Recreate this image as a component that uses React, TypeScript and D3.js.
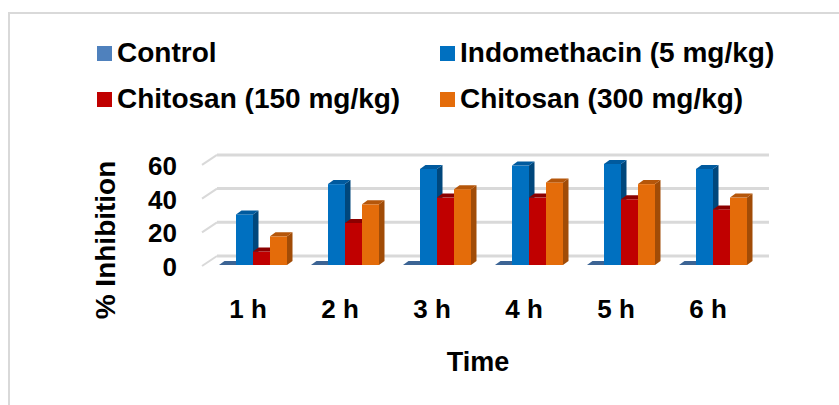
import React from 'react';
import * as d3 from 'd3';

const categories = ['1 h', '2 h', '3 h', '4 h', '5 h', '6 h'];
const seriesNames = ['Control', 'Indomethacin (5 mg/kg)', 'Chitosan (150 mg/kg)', 'Chitosan (300 mg/kg)'];
const control = [0, 0, 0, 0, 0, 0];
const indomethacin = [30, 48, 57, 59, 60, 57];
const chitosan150 = [8, 25, 40, 40, 39, 33];
const chitosan300 = [17, 36, 45, 49, 48, 40];
const yTicks = [0, 20, 40, 60];

// front / top / side shades for each series
const colors = [
  { front: '#4f81bd', top: '#3c6494', side: '#2f5078' },
  { front: '#0070c0', top: '#005a9e', side: '#00477c' },
  { front: '#c00000', top: '#8b0000', side: '#900000' },
  { front: '#e46c0a', top: '#b5560a', side: '#a14c07' },
];

const FONT = '"Liberation Sans", Arial, sans-serif';

const App: React.FC = () => {
  const width = 839;
  const height = 405;
  const values = [control, indomethacin, chitosan150, chitosan300];

  const base = 265;
  const y = d3.scaleLinear().domain([0, 60]).range([base, base - 101.1]);

  const x = d3.scaleBand<string>()
    .domain(categories)
    .range([207, 759])
    .paddingInner(24 / 92)
    .paddingOuter(12 / 92);

  const xs = d3.scaleBand<number>()
    .domain(d3.range(seriesNames.length))
    .range([0, x.bandwidth()]);

  // depth of each bar and of the wall
  const bdx = 5.5, bdy = -4;
  const wallX0 = 202, wallDx = 15, wallDy = -10;

  const bars: React.ReactNode[] = [];
  categories.forEach((cat, ci) => {
    values.forEach((vals, si) => {
      const v = vals[ci];
      const x0 = (x(cat) || 0) + (xs(si) || 0);
      const w = xs.bandwidth();
      const top = y(v);
      const c = colors[si];
      const key = `${ci}-${si}`;
      if (v > 0) {
        bars.push(
          <g key={key}>
            <polygon
              points={`${x0 + w},${base} ${x0 + w + bdx},${base + bdy} ${x0 + w + bdx},${top + bdy} ${x0 + w},${top}`}
              fill={c.side}
            />
            <rect x={x0} y={top} width={w} height={base - top} fill={c.front} />
            <polygon
              points={`${x0},${top} ${x0 + bdx},${top + bdy} ${x0 + w + bdx},${top + bdy} ${x0 + w},${top}`}
              fill={c.top}
            />
          </g>
        );
      } else {
        bars.push(
          <polygon
            key={key}
            points={`${x0},${base} ${x0 + bdx},${base + bdy} ${x0 + w + bdx},${base + bdy} ${x0 + w},${base}`}
            fill={c.top}
          />
        );
      }
    });
  });

  const legendPos = [
    { x: 97, y: 62 },
    { x: 440, y: 62 },
    { x: 97, y: 108 },
    { x: 440, y: 108 },
  ];

  return (
    <svg
      width={width}
      height={height}
      style={{ position: 'absolute', left: 0, top: 0, background: '#fff' }}
      fontFamily={FONT}
    >
      <rect x={9} y={13} width={840} height={410} fill="#fff" stroke="#d9d9d9" strokeWidth={2} />

      {/* gridlines on back wall with floor slant */}
      {yTicks.map(t => (
        <g key={t}>
          <line
            x1={wallX0} y1={y(t) + 1}
            x2={wallX0 + wallDx} y2={y(t) + 1 + wallDy}
            stroke="#d9d9d9" strokeWidth={2}
          />
          <line
            x1={wallX0 + wallDx} y1={y(t) + 1 + wallDy}
            x2={769} y2={y(t) + 1 + wallDy}
            stroke="#d9d9d9" strokeWidth={3}
          />
        </g>
      ))}

      {bars}

      {/* y tick labels */}
      {yTicks.map(t => (
        <text
          key={t}
          x={177}
          y={y(t) + 11}
          textAnchor="end"
          fontSize={26}
          fontWeight="bold"
          fill="#000"
        >
          {t}
        </text>
      ))}

      {/* x tick labels */}
      {categories.map(cat => (
        <text
          key={cat}
          x={(x(cat) || 0) + x.bandwidth() / 2 - 5}
          y={318}
          textAnchor="middle"
          fontSize={26}
          fontWeight="bold"
          fill="#000"
        >
          {cat}
        </text>
      ))}

      <text
        transform="translate(115,240) rotate(-90)"
        textAnchor="middle"
        fontSize={28}
        fontWeight="bold"
        fill="#000"
      >
        % Inhibition
      </text>

      <text x={478} y={371} textAnchor="middle" fontSize={27} fontWeight="bold" fill="#000">
        Time
      </text>

      {seriesNames.map((name, i) => (
        <g key={name}>
          <rect x={legendPos[i].x} y={legendPos[i].y - 16} width={15} height={15} fill={colors[i].front} />
          <text
            x={legendPos[i].x + 20}
            y={legendPos[i].y}
            fontSize={28}
            fontWeight="bold"
            fill="#000"
          >
            {name}
          </text>
        </g>
      ))}
    </svg>
  );
};

export default App;
